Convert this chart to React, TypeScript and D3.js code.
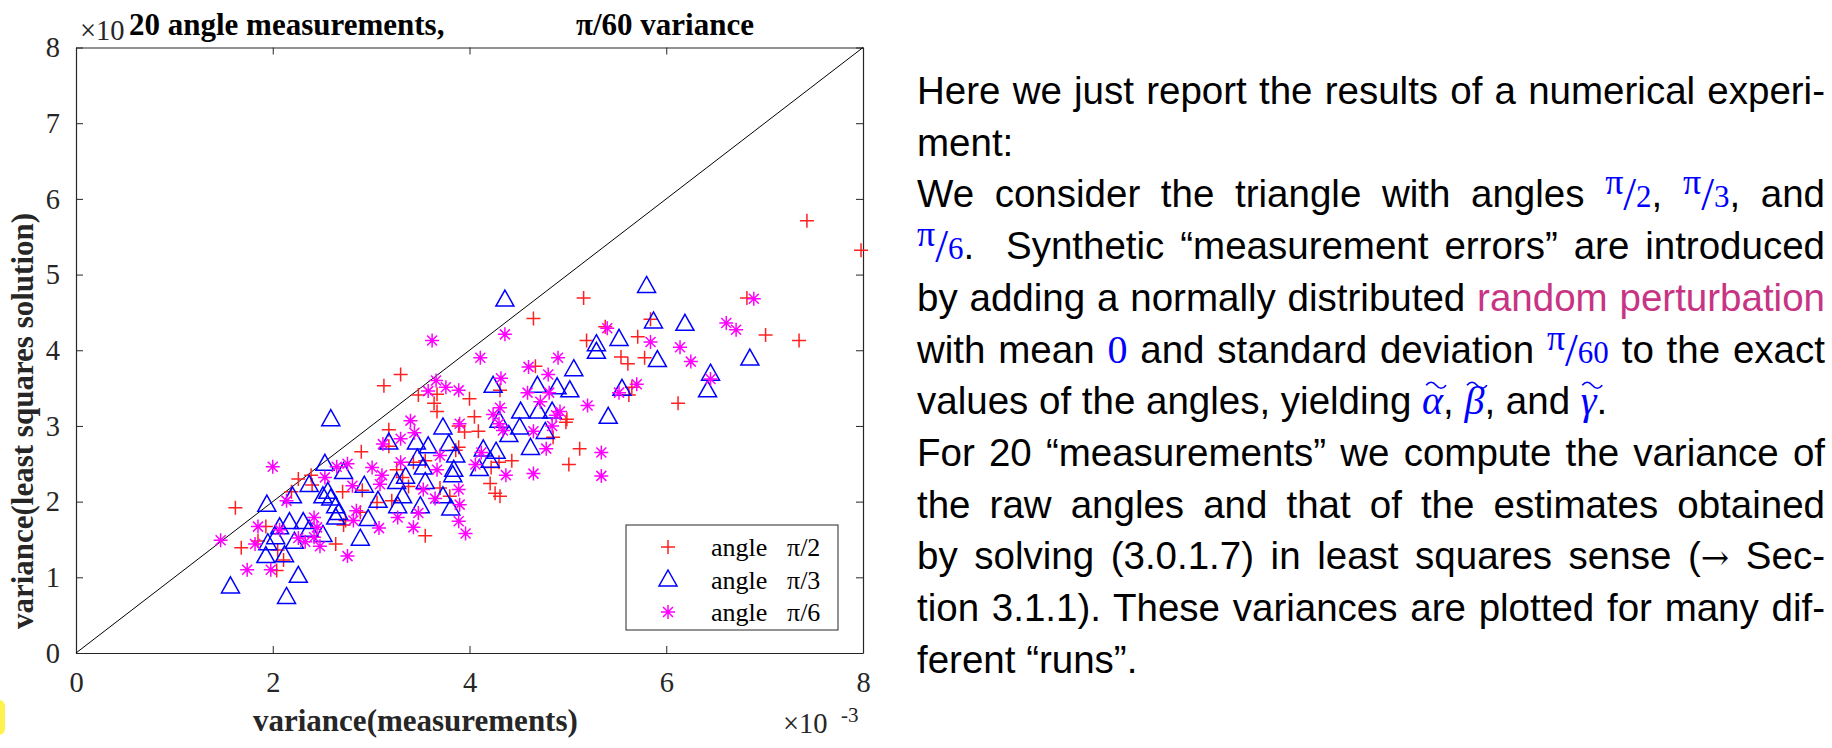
import React, { useRef, useEffect } from "react";
import * as d3 from "d3";

const W = 1832;
const H = 748;

const xTicks = [0, 2, 4, 6, 8];
const yTicks = [0, 1, 2, 3, 4, 5, 6, 7, 8];

// variance values, in units of 1e-3: [measurements, least squares]
const plusPoints: [number, number][] = [
  [7.43, 5.71], [7.98, 5.32], [5.16, 4.69], [4.65, 4.42], [6.82, 4.69], [7.01, 4.2],
  [7.35, 4.13], [5.84, 4.41], [5.38, 4.31], [5.19, 4.13], [5.71, 4.18], [5.54, 3.91],
  [5.61, 3.82], [5.78, 3.9], [6.12, 3.3], [5.62, 3.41], [5.65, 3.51], [4.67, 3.79],
  [4.99, 3.09], [4.98, 3.05], [4.85, 2.85], [5.12, 2.7], [5.01, 2.49], [4.43, 2.54],
  [4.31, 2.07], [4.26, 2.11], [4.21, 2.24], [4.22, 2.45], [4.3, 2.52], [4.09, 2.93],
  [4.05, 3.12], [4.0, 3.36], [4.31, 3.47], [3.64, 3.3], [3.67, 3.19], [3.67, 3.42],
  [3.48, 3.41], [3.3, 3.68], [3.13, 3.53], [3.18, 2.95], [3.18, 2.73], [2.9, 2.66],
  [3.86, 2.68], [3.89, 2.72], [3.89, 3.0], [3.95, 2.92], [3.55, 2.54], [3.43, 2.52],
  [3.26, 2.42], [3.32, 2.32], [3.38, 2.2], [3.21, 2.01], [3.06, 1.99], [2.91, 2.15],
  [2.89, 1.86], [2.72, 1.69], [2.71, 2.13], [2.64, 1.44], [3.55, 1.55], [2.26, 2.3],
  [2.39, 2.35], [2.4, 2.22], [2.19, 2.13], [1.62, 1.92], [1.68, 1.39], [2.04, 1.09],
  [2.11, 1.23], [2.05, 1.36], [1.93, 1.67], [1.85, 1.48], [2.74, 1.75], [3.7, 2.18],
  [3.8, 2.07],
];

const trianglePoints: [number, number][] = [
  [5.8, 4.85], [4.36, 4.67], [5.87, 4.38], [6.19, 4.35], [5.52, 4.15], [5.29, 4.08],
  [5.29, 3.98], [5.91, 3.87], [6.85, 3.89], [5.06, 3.75], [6.45, 3.69], [6.42, 3.47],
  [5.55, 3.49], [5.02, 3.47], [4.89, 3.51], [4.69, 3.53], [5.41, 3.12], [4.84, 3.19],
  [4.7, 3.19], [4.52, 3.19], [4.51, 2.98], [4.77, 2.92], [4.62, 2.71], [4.24, 3.53],
  [4.3, 3.07], [4.27, 2.66], [4.21, 2.54], [4.1, 2.43], [4.14, 2.69], [4.4, 2.88],
  [3.73, 2.98], [3.79, 2.76], [3.86, 2.61], [3.84, 2.42], [3.83, 2.35], [3.81, 1.91],
  [3.73, 2.07], [3.58, 2.73], [3.46, 2.78], [3.47, 2.57], [3.53, 2.45], [3.55, 2.26],
  [3.5, 1.94], [3.32, 2.07], [3.26, 2.26], [3.35, 2.33], [3.27, 1.94], [3.18, 2.78],
  [3.07, 2.01], [2.97, 1.77], [2.93, 2.21], [2.89, 1.51], [2.72, 2.39], [2.59, 3.09],
  [2.53, 2.5], [2.56, 2.13], [2.59, 2.04], [2.64, 1.94], [2.67, 1.85], [2.64, 1.79],
  [2.51, 1.56], [2.51, 2.07], [2.37, 2.22], [2.2, 2.07], [2.17, 1.73], [2.31, 1.73],
  [2.22, 1.47], [2.07, 1.66], [2.03, 1.53], [1.94, 1.96], [1.95, 1.45], [1.93, 1.28],
  [2.12, 1.29], [2.26, 1.02], [2.14, 0.74], [1.57, 0.88], [2.37, 1.63],
];

const starPoints: [number, number][] = [
  [6.89, 4.68], [6.61, 4.36], [6.71, 4.27], [6.45, 3.62], [6.14, 4.04], [6.25, 3.85],
  [5.84, 4.11], [5.4, 4.29], [5.7, 3.55], [5.52, 3.44], [5.2, 3.27], [5.34, 2.65],
  [5.34, 2.34], [4.9, 3.9], [4.8, 3.68], [4.6, 3.78], [4.36, 4.21], [4.11, 3.9],
  [3.62, 4.13], [4.32, 3.63], [4.59, 3.44], [4.81, 3.44], [4.72, 3.32], [4.88, 3.14],
  [4.92, 3.19], [4.84, 3.0], [4.65, 2.93], [4.78, 2.7], [4.65, 2.37], [4.37, 2.35],
  [4.3, 3.03], [4.31, 3.24], [4.24, 3.15], [4.34, 2.94], [4.12, 2.65], [4.06, 2.49],
  [3.9, 3.03], [3.89, 3.47], [3.76, 3.51], [3.66, 3.6], [3.58, 3.46], [3.4, 3.07],
  [3.44, 2.91], [3.3, 2.83], [3.12, 2.76], [3.01, 2.45], [3.11, 2.35], [3.09, 2.23],
  [3.3, 2.52], [3.53, 2.16], [3.65, 2.04], [3.67, 2.42], [3.7, 2.61], [3.89, 2.16],
  [3.9, 1.96], [3.89, 1.74], [3.96, 1.58], [3.48, 1.85], [3.43, 1.66], [3.27, 1.79],
  [3.08, 1.65], [2.85, 1.88], [2.82, 1.75], [2.76, 1.28], [2.65, 2.46], [2.76, 2.5],
  [2.81, 2.21], [2.53, 2.32], [2.14, 2.01], [2.0, 2.46], [2.42, 1.79], [2.45, 1.66],
  [2.42, 1.53], [2.33, 1.47], [2.48, 1.41], [2.07, 1.63], [1.85, 1.67], [1.82, 1.44],
  [1.74, 1.1], [1.98, 1.1], [1.47, 1.49], [2.26, 1.52],
];

const RED = "#ff2020";
const BLUE = "#0000ff";
const MAGENTA = "#ff00ff";
const PINK = "#c73484";
const AXIS = "#262626";
const SERIF = "'Liberation Serif', 'Times New Roman', serif";
const SANS = "'Liberation Sans', Arial, sans-serif";

const markerPaths: Record<string, string> = {
  plus: "M-7,0H7M0,-7V7",
  triangle: "M0,-9.5L9,6.5L-9,6.5Z",
  star: "M-7,0H7M0,-7V7M-5,-5L5,5M-5,5L5,-5",
};

const series = [
  { points: plusPoints, marker: "plus", color: RED, label: "2" },
  { points: trianglePoints, marker: "triangle", color: BLUE, label: "3" },
  { points: starPoints, marker: "star", color: MAGENTA, label: "6" },
];

type Seg = [string, string];
const paragraphLines: { segs: Seg[]; justify: boolean }[] = [
  { segs: [["Here we just report the results of a numerical experi-", "n"]], justify: true },
  { segs: [["ment:", "n"]], justify: false },
  { segs: [["We consider the triangle with angles ", "n"], ["2", "frac"], [", ", "n"], ["3", "frac"], [", and", "n"]], justify: true },
  { segs: [["6", "frac"], [".  Synthetic “measurement errors” are introduced", "n"]], justify: true },
  { segs: [["by adding a normally distributed ", "n"], ["random perturbation", "pink"]], justify: true },
  { segs: [["with mean ", "n"], ["0", "math"], [" and standard deviation ", "n"], ["60", "frac"], [" to the exact", "n"]], justify: true },
  { segs: [["values of the angles, yielding ", "n"], ["α", "tilde"], [", ", "n"], ["β", "tilde"], [", and ", "n"], ["γ", "tilde"], [".", "n"]], justify: false },
  { segs: [["For 20 “measurements” we compute the variance of", "n"]], justify: true },
  { segs: [["the raw angles and that of the estimates obtained", "n"]], justify: true },
  { segs: [["by solving (3.0.1.7) in least squares sense (", "n"], ["→", "arrow"], [" Sec-", "n"]], justify: true },
  { segs: [["tion 3.1.1). These variances are plotted for many dif-", "n"]], justify: true },
  { segs: [["ferent “runs”.", "n"]], justify: false },
];

export default function App() {
  const svgRef = useRef<SVGSVGElement>(null);

  useEffect(() => {
    if (!svgRef.current) return;
    document.body.style.margin = "0";
    const svg = d3.select(svgRef.current);
    svg.selectAll("*").remove();

    svg.append("rect").attr("width", W).attr("height", H).attr("fill", "#fff");

    // little yellow note marker cut off at the left edge
    svg.append("rect")
      .attr("x", -12).attr("y", 700).attr("width", 17).attr("height", 35)
      .attr("rx", 6).attr("fill", "#fef34d");

    const x = d3.scaleLinear().domain([0, 8]).range([76, 863]);
    const y = d3.scaleLinear().domain([0, 8]).range([653, 47.5]);

    const styleAxis = (g: d3.Selection<SVGGElement, unknown, null, undefined>) => {
      g.attr("font-size", null).attr("font-family", null);
      g.select(".domain").attr("stroke", AXIS).attr("stroke-width", 1.2);
      g.selectAll(".tick line").attr("stroke", AXIS).attr("stroke-width", 1);
      g.selectAll("text")
        .attr("fill", AXIS)
        .style("font-family", SERIF)
        .style("font-size", "28.5px");
    };

    const gx = svg.append("g")
      .attr("transform", `translate(0,${y(0)})`)
      .call(d3.axisBottom(x).tickValues(xTicks).tickSizeInner(-7).tickSizeOuter(0)
        .tickPadding(19).tickFormat(d3.format("d")));
    styleAxis(gx);

    const gy = svg.append("g")
      .attr("transform", `translate(${x(0)},0)`)
      .call(d3.axisLeft(y).tickValues(yTicks).tickSizeInner(-7).tickSizeOuter(0)
        .tickPadding(16).tickFormat(d3.format("d")));
    styleAxis(gy);

    const gt = svg.append("g")
      .attr("transform", `translate(0,${y(8)})`)
      .call(d3.axisTop(x).tickValues(xTicks).tickSizeInner(-7).tickSizeOuter(0).tickFormat(() => ""));
    styleAxis(gt);

    const gr = svg.append("g")
      .attr("transform", `translate(${x(8)},0)`)
      .call(d3.axisRight(y).tickValues(yTicks).tickSizeInner(-7).tickSizeOuter(0).tickFormat(() => ""));
    styleAxis(gr);

    // diagonal y = x
    svg.append("line")
      .attr("x1", x(0)).attr("y1", y(0))
      .attr("x2", x(8)).attr("y2", y(8))
      .attr("stroke", "#000").attr("stroke-width", 1);

    // scatter markers
    series.forEach(s => {
      svg.append("g")
        .selectAll("path")
        .data(s.points)
        .join("path")
        .attr("transform", d => `translate(${x(d[0])},${y(d[1])})`)
        .attr("d", markerPaths[s.marker])
        .attr("fill", "none")
        .attr("stroke", s.color)
        .attr("stroke-width", 1.5);
    });

    // exponent labels
    svg.append("text")
      .attr("x", 80).attr("y", 40)
      .style("font-family", SERIF).style("font-size", "28.5px").attr("fill", AXIS)
      .text("×10");

    const bx = svg.append("text")
      .attr("x", 783).attr("y", 733)
      .style("font-family", SERIF).style("font-size", "28.5px").attr("fill", AXIS);
    bx.append("tspan").text("×10");
    bx.append("tspan").attr("x", 841).attr("y", 722).style("font-size", "21px").text("-3");

    // title
    const title = svg.append("g")
      .style("font-family", SERIF).style("font-size", "31px").style("font-weight", "bold");
    title.append("text").attr("x", 129).attr("y", 35).attr("fill", "#000").text("20 angle measurements,");
    title.append("text").attr("x", 576).attr("y", 35).attr("fill", "#000").text("π/60 variance");

    // axis labels
    svg.append("text")
      .attr("x", 253).attr("y", 731)
      .style("font-family", SERIF).style("font-size", "31px").style("font-weight", "bold")
      .attr("fill", AXIS)
      .text("variance(measurements)");
    svg.append("text")
      .attr("transform", "translate(33,421) rotate(-90)")
      .attr("text-anchor", "middle")
      .style("font-family", SERIF).style("font-size", "31px").style("font-weight", "bold")
      .attr("fill", AXIS)
      .text("variance(least squares solution)");

    // legend
    const legend = svg.append("g").attr("transform", "translate(626,525)");
    legend.append("rect")
      .attr("width", 212).attr("height", 105)
      .attr("fill", "#fff").attr("stroke", AXIS).attr("stroke-width", 1);
    series.forEach((s, i) => {
      const row = legend.append("g").attr("transform", `translate(0,${22 + i * 32.5})`);
      row.append("path")
        .attr("transform", "translate(42,0)")
        .attr("d", markerPaths[s.marker])
        .attr("fill", "none").attr("stroke", s.color).attr("stroke-width", 1.5);
      row.append("text")
        .attr("x", 85).attr("y", 9)
        .style("font-family", SERIF).style("font-size", "26px").attr("fill", "#000")
        .text("angle");
      row.append("text")
        .attr("x", 161).attr("y", 9)
        .style("font-family", SERIF).style("font-size", "26px").attr("fill", "#000")
        .text(`π/${s.label}`);
    });

    // explanatory paragraph
    const textLeft = 917;
    const textRight = 1825;
    const para = svg.append("g");
    paragraphLines.forEach((line, i) => {
      const baseline = 104 + i * 51.7;
      const t = para.append("text")
        .attr("x", textLeft).attr("y", baseline)
        .attr("xml:space", "preserve")
        .style("font-family", SANS).style("font-size", "38.5px").attr("fill", "#000");
      const tildes: SVGTSpanElement[] = [];
      line.segs.forEach(([str, kind]) => {
        if (kind === "n") {
          t.append("tspan").text(str);
        } else if (kind === "pink") {
          t.append("tspan").attr("fill", PINK).text(str);
        } else if (kind === "math") {
          t.append("tspan").attr("fill", BLUE).style("font-family", SERIF).style("font-size", "40px").text(str);
        } else if (kind === "arrow") {
          t.append("tspan").style("font-family", "'DejaVu Serif', serif").style("font-size", "34px").text(str);
        } else if (kind === "frac") {
          t.append("tspan").attr("fill", BLUE).style("font-family", SERIF)
            .style("font-size", "36px").attr("dy", -13).text("π");
          t.append("tspan").attr("fill", BLUE).style("font-family", SERIF)
            .style("font-size", "46px").attr("dy", 16).text("/");
          t.append("tspan").attr("fill", BLUE).style("font-family", SERIF)
            .style("font-size", "31px").attr("dy", -3).text(str);
        } else if (kind === "tilde") {
          const ts = t.append("tspan").attr("fill", BLUE).style("font-family", SERIF)
            .style("font-style", "italic").style("font-size", "40px").text(str);
          tildes.push(ts.node() as SVGTSpanElement);
        }
      });
      const node = t.node() as SVGTextElement;
      if (line.justify) {
        const natural = node.getComputedTextLength();
        const text = line.segs.map(s => s[0]).join("");
        const spaces = (text.match(/ /g) || []).length;
        if (spaces > 0) {
          t.style("word-spacing", `${(textRight - textLeft - natural) / spaces}px`);
        }
      }
      tildes.forEach(ts => {
        const b = ts.getBBox();
        const cx = b.x + b.width / 2 + 3;
        const ty = baseline - 31;
        para.append("path")
          .attr("d", `M${cx - 10},${ty + 2}q5,-6 10,0t10,0`)
          .attr("fill", "none").attr("stroke", BLUE).attr("stroke-width", 1.6);
      });
    });
  }, []);

  return <svg ref={svgRef} width={W} height={H} style={{ display: "block" }} />;
}
